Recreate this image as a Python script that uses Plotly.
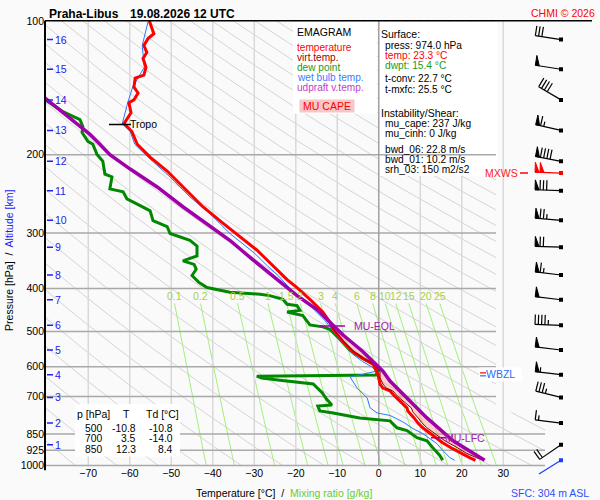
"""Emagram Praha-Libus redrawn with Plotly."""

import math
import plotly.graph_objects as go

FONT = "Liberation Sans"

# ---------------------------------------------------------------- sounding
TEMP_P = [100.0, 106.9, 109.6, 113.6, 117.8, 121.5, 127.2, 132.5, 134.6, 140.9,
          145.3, 150.6, 152.9, 161.0, 170.3, 177.4, 189.5, 202.6, 217.7, 236.4,
          261.9, 285.6, 305.6, 327.7, 338, 356, 382, 398, 423, 452,
          476, 494, 527, 555, 575, 592, 624, 656, 670, 680,
          698, 742, 754, 782, 802, 823, 855, 889, 917, 940, 960, 974]
TEMP_T = [-55.3, -54.2, -55.6, -56.6, -55.9, -56.8, -56.1, -56.6, -58.7, -59.0,
          -58.0, -59.0, -60.2, -59.7, -61.4, -59.5, -58.2, -55.1, -51.0, -47.2,
          -42.4, -37.5, -33.4, -29.4, -27.9, -25.5, -22.1, -19.7, -16.6, -13.5,
          -11.8, -11.0, -8.6, -6.2, -3.8, -1.4, -0.2, 0.3, 1.0, 2.7,
          3.8, 6.8, 7.0, 8.5, 9.4, 10.6, 13.0, 15.4, 17.8, 19.9, 21.9, 23.3]

DEWP_P = [150.0, 160.3, 166.8, 173.0, 178.3, 186.6, 189.5, 199.7, 206.9, 221.2,
          224.5, 238.8, 242.5, 251.4, 260.5, 267.6, 281.5, 290.2, 300.8, 311.6,
          321.2, 338.0, 346.7, 353.0, 362.0, 374.0, 388.0, 398.0, 408.0, 412.0,
          415.0, 423.0, 434.0, 437.0, 448.0, 452.0, 460.0, 483.0, 488.0, 494.0,
          520.0, 550.0, 575.0, 590.0, 614.0, 626.0, 630.0, 636.0, 643.0, 656.0,
          687.0, 709.0, 731.0, 735.0, 754.0, 762.0, 782.0, 794.0, 823.0, 835.0,
          866.0, 880.0, 912.0, 950.0, 974.0]
DEWP_T = [-80.6, -76.0, -72.0, -71.3, -71.5, -70.1, -68.9, -67.9, -66.5, -66.0,
          -64.3, -64.8, -61.6, -60.7, -57.5, -55.1, -54.4, -51.0, -50.3, -45.5,
          -43.8, -43.8, -47.2, -44.5, -44.0, -45.0, -43.3, -41.4, -35.9, -28.6,
          -26.3, -23.1, -22.1, -19.7, -19.0, -22.1, -18.3, -16.6, -13.5, -11.8,
          -9.4, -7.0, -3.8, -1.4, -0.2, -0.7, -29.4, -28.2, -23.8, -15.8,
          -13.6, -12.6, -11.3, -14.7, -14.2, -11.0, -4.6, 2.7, 4.4, 6.8,
          9.2, 11.6, 13.0, 14.7, 15.4]

WETB_P = [100.5, 113.6, 127.2, 140.9, 152.9, 170.3, 177.4, 189.5, 202.6, 224.5,
          249.0, 271.3, 300.8, 332.8, 356.0, 374.0, 408.0, 423.0, 452.0, 476.0,
          488.0, 527.0, 561.0, 584.0, 601.0, 614.0, 633.0, 670.0, 705.0, 742.0,
          762.0, 772.0, 798.0, 826.0, 848.0, 893.0, 925.0, 960.0, 974.0]
WETB_T = [-55.6, -57.0, -56.5, -59.3, -60.5, -61.8, -59.9, -58.8, -55.6, -50.3,
          -45.5, -40.7, -35.9, -30.0, -26.8, -24.3, -20.5, -18.0, -15.0, -12.6,
          -11.8, -9.0, -6.4, -3.9, -1.6, -0.7, -6.9, -5.2, -2.8, -2.1,
          -0.4, 2.7, 5.8, 8.2, 10.6, 14.0, 15.4, 17.1, 18.3]

VIRT_P = [476, 494, 527, 555, 575, 592, 614, 635, 656, 670, 680, 700,
          742, 760, 782, 800, 823, 850, 880, 912, 940, 960, 974]
VIRT_T = [-11.7, -10.9, -8.4, -6.0, -3.6, -1.1, 0.3, 0.3, 1.0, 1.8, 3.4, 4.6,
          7.8, 8.3, 9.5, 10.3, 11.6, 13.6, 15.9, 18.9, 21.2, 23.5, 25.2]

# MU parcel (updraft virtual temperature)
PARC_P = [149, 160.3, 175.8, 180.1, 189.5, 200, 215.5, 236.4, 261.9, 290.2,
          311.6, 345, 382, 415, 446, 476, 509, 555, 614, 646,
          705, 782, 880, 974]
PARC_T = [-80.5, -76.3, -71.3, -69.6, -67.2, -64.8, -59.9, -53.4, -47.2, -40.7,
          -35.9, -30.3, -24.5, -19.7, -14.9, -11.8, -8.6, -3.8, 1.0, 2.7,
          6.8, 11.6, 17.9, 25.5]

TROPO_P = 171
EQL_P = 486
LFC_P = 866
WBZL_P = 624

# altitude marks [km] and the pressure they sit at
ALT_KM = list(range(1, 17))
ALT_P = [898, 803, 703, 625, 550, 484, 424, 373, 323, 281,
         241, 207, 176.4, 150.6, 128.5, 110.2]

# winds at the altitude marks (direction deg, speed kt)
WIND_DIR = [235, 277, 284, 277, 277, 272, 277, 277, 272, 275,
            272, 281, 283, 301, 279, 279]
WIND_SPD = [20, 15, 35, 55, 50, 45, 50, 65, 70, 75,
            80, 90, 65, 40, 50, 30]
SFC_P, SFC_DIR, SFC_SPD = 974, 238, 0
MXWS_P, MXWS_DIR, MXWS_SPD = 220, 272, 100

# table in the lower left
TAB_P = [500, 700, 850]
TAB_T = [-10.8, 3.5, 12.3]
TAB_TD = [-10.8, -14.0, 8.4]

# background lines
ISOTHERMS = list(range(-70, 31, 10))
ISOBARS = [200, 300, 400, 500, 600, 700, 850, 925, 1000]
THETA_K = list(range(190, 600, 10))
MIX_W = [0.1, 0.2, 0.5, 1, 1.5, 2, 3, 4, 6, 8, 10, 12, 15, 20, 25]

SURFACE_TXT = [("press: 974.0 hPa", "black"), ("temp: 23.3 °C", "#ff0000"),
               ("dwpt: 15.4 °C", "#1a9a1a")]
CONV_TXT = ["t-conv: 22.7 °C", "t-mxfc: 25.5 °C"]
INST_TXT = ["mu_cape: 237 J/kg", "mu_cinh: 0 J/kg"]
SHEAR_TXT = ["bwd_06: 22.8 m/s", "bwd_01: 10.2 m/s", "srh_03: 150 m2/s2"]

# ---------------------------------------------------------------- geometry
W, H = 600, 500
X_L, X_R = 45, 600          # plot area, px
Y_T, Y_B = 15, 465          # 100 hPa .. 1000 hPa
Y_CLIP = 482
T_L = -80.43
PX_DEG = 4.15
T_R = T_L + (X_R - X_L) / PX_DEG
KAPPA = 0.286


def tx(x):
    return T_L + (x - X_L) / PX_DEG


def py(p):
    return Y_T + (Y_B - Y_T) * math.log10(p / 100.0)


def yp(y):
    return 100.0 * 10 ** ((y - Y_T) / (Y_B - Y_T))


def td_of_w(w, p):
    e = w * p / (622.0 + w)
    a = math.log(e / 6.112)
    return 243.5 * a / (17.67 - a)


fig = go.Figure()


def add_line(xs, ys, color, width, **kw):
    fig.add_trace(go.Scatter(x=xs, y=ys, mode="lines",
                             line=dict(color=color, width=width),
                             hoverinfo="skip", showlegend=False, **kw))


def px_poly(segs):
    xs, ys = [], []
    for s in segs:
        for x, y in s:
            xs.append(tx(x))
            ys.append(yp(y))
        xs.append(None)
        ys.append(None)
    return xs, ys


# dry adiabats
hx, hy = [], []
for th in THETA_K:
    for p0, p1, lim in ((100, 760, tx(496)), (760, 1000, tx(545))):
        pc = 1000 * ((lim + 273.15) / th) ** (1 / KAPPA)
        pe = min(p1, pc)
        if pe <= p0:
            continue
        for i in range(13):
            p = p0 * (pe / p0) ** (i / 12)
            hx.append(th * (p / 1000) ** KAPPA - 273.15)
            hy.append(p)
        hx.append(None)
        hy.append(None)
add_line(hx, hy, "#d4d4d4", 1)

# mixing ratio lines
mx, my = [], []
for w in MIX_W:
    for i in range(9):
        p = 432 * (1000 / 432) ** (i / 8)
        mx.append(td_of_w(w, p))
        my.append(p)
    mx.append(None)
    my.append(None)
add_line(mx, my, "#a4f07c", 1)

# isotherms
ix, iy = [], []
for t in ISOTHERMS:
    if t != 0:
        ix += [t, t, None]
        iy += [100, 1000, None]
add_line(ix, iy, "#d9d9d9", 1.5)

# white panels (legend and info)
for x0, x1, y0, y1 in ((293, 377, 16, 109), (379, 497, 16, 172)):
    bx, by = px_poly([[(x0, y0), (x1, y0), (x1, y1), (x0, y1), (x0, y0)]])
    fig.add_trace(go.Scatter(x=bx, y=by, mode="lines", fill="toself",
                             fillcolor="white", line=dict(width=0),
                             hoverinfo="skip", showlegend=False))

# isobars and 0 degC
gx, gy = [], []
for p in ISOBARS:
    gx += [T_L, tx(496) if p < 800 else tx(545), None]
    gy += [p, p, None]
add_line(gx, gy, "#a9a9a9", 1.5)
add_line([0, 0], [100, 1000], "#a0a0a0", 1.5)

# CAPE area between updraft and virtual temperature
cape_x = [t for p, t in zip(PARC_P, PARC_T) if p >= VIRT_P[0]] + VIRT_T[::-1]
cape_y = [p for p in PARC_P if p >= VIRT_P[0]] + VIRT_P[::-1]
fig.add_trace(go.Scatter(x=cape_x, y=cape_y, mode="lines", fill="toself",
                         fillcolor="rgba(255,140,140,0.4)", line=dict(width=0),
                         hoverinfo="skip", showlegend=False))

# profiles
add_line(DEWP_T, DEWP_P, "#008800", 3)
add_line(WETB_T, WETB_P, "#2a78ff", 1)
add_line(TEMP_T, TEMP_P, "#ff0000", 3)
add_line(VIRT_T, VIRT_P, "#8b0000", 1)
add_line(PARC_T, PARC_P, "#a000a8", 3.5)

# markers of levels
add_line([tx(109), tx(131)], [TROPO_P, TROPO_P], "black", 1.5)
add_line([tx(320), tx(345)], [EQL_P, EQL_P], "#a000a8", 1.5)
add_line([tx(431), tx(446)], [LFC_P, LFC_P], "#a000a8", 1.5)
add_line([tx(520), tx(528)], [MXWS_P, MXWS_P], "#ff0000", 1.5)

# altitude dashes
ax_, ay_ = [], []
for p in ALT_P:
    ax_ += [tx(47), tx(53), None]
    ay_ += [p, p, None]
add_line(ax_, ay_, "#2020ee", 1.5)


# wind barbs
BARB_X = 561


def barb(p, wdir, spd):
    x0, y0 = BARB_X, py(p)
    a = math.radians(wdir)
    ux, uy = math.sin(a), -math.cos(a)
    bx, by = -uy, ux
    tipx, tipy = x0 + ux * 26, y0 + uy * 26
    lines = [[(x0, y0), (tipx, tipy)]]
    tris = []
    n50, rest = divmod(int(round(spd / 5.0)) * 5, 50)
    n10, rest = divmod(rest, 10)
    d = 0.0
    for _ in range(n50):
        sx, sy = tipx - ux * d, tipy - uy * d
        ex, ey = tipx - ux * (d + 4), tipy - uy * (d + 4)
        tris.append([(sx, sy), (sx + bx * 10, sy + by * 10), (ex, ey), (sx, sy)])
        d += 5
    for _ in range(n10):
        sx, sy = tipx - ux * d, tipy - uy * d
        lines.append([(sx, sy), (sx + bx * 10, sy + by * 10)])
        d += 3.3
    if rest >= 5:
        sx, sy = tipx - ux * d, tipy - uy * d
        lines.append([(sx, sy), (sx + bx * 5, sy + by * 5)])
    return lines, tris, (x0, y0)


def draw_barbs(levels, color):
    all_lines, all_tris, dots = [], [], []
    for p, wd, ws in levels:
        ln, tr, dot = barb(p, wd, ws)
        all_lines += ln
        all_tris += tr
        dots.append(dot)
    lx, ly = px_poly(all_lines)
    add_line(lx, ly, color, 1.2)
    if all_tris:
        tx_, ty_ = px_poly(all_tris)
        fig.add_trace(go.Scatter(x=tx_, y=ty_, mode="lines", fill="toself",
                                 fillcolor=color, line=dict(color=color, width=1),
                                 hoverinfo="skip", showlegend=False))
    dx, dy = px_poly([[d] for d in dots])
    fig.add_trace(go.Scatter(x=dx, y=dy, mode="markers",
                             marker=dict(symbol="square", size=4, color=color),
                             hoverinfo="skip", showlegend=False))


draw_barbs(list(zip(ALT_P, WIND_DIR, WIND_SPD)), "black")
draw_barbs([(MXWS_P, MXWS_DIR, MXWS_SPD)], "#ff0000")
draw_barbs([(SFC_P, SFC_DIR, SFC_SPD)], "#1a3cff")


# ---------------------------------------------------------------- texts
def text(x, y, s, size=10.5, color="black", anchor="left", **kw):
    fig.add_annotation(x=x / W, y=1 - y / H, xref="paper", yref="paper",
                       text=s, showarrow=False, xanchor=anchor, yanchor="middle",
                       borderpad=0, font=dict(family=FONT, size=size, color=color),
                       **kw)


def text_at(x, p, s, size=10.5, color="black", anchor="left", **kw):
    text(x, py(p), s, size, color, anchor, **kw)


text(48, 8, "<b>Praha-Libus</b>", 12)
text(129, 8, "<b>19.08.2026 12 UTC</b>", 12)
text(596, 7, "CHMI © 2026", 10.5, "#ff0000", "right")

# legend panel
text(296, 26, "EMAGRAM", 10.5)
for i, (s, c) in enumerate([("temperature", "#ff0000"), ("virt.temp.", "#a00000"),
                            ("dew point", "#1a9a1a"), ("wet bulb temp.", "#3a7cff"),
                            ("udpraft v.temp.", "#c040c8")]):
    text(296, 42 + i * 10, s, 10.1, c)
fig.add_annotation(x=327 / W, y=1 - 101 / H, xref="paper", yref="paper",
                   text="MU CAPE", showarrow=False, xanchor="center",
                   yanchor="middle", width=54, height=12, bgcolor="#f8c6c6",
                   borderpad=0, font=dict(family=FONT, size=10.5, color="#ff0000"))

# info panel
text(380, 28, "Surface:")
for i, (s, c) in enumerate(SURFACE_TXT):
    text(384, 40 + i * 10, s, 10.2, color=c)
for i, s in enumerate(CONV_TXT):
    text(384, 73.5 + i * 10.6, s, 10.1)
text(380, 108, "Instability/Shear:")
for i, s in enumerate(INST_TXT):
    text(384, 119 + i * 10, s, 10.2)
for i, s in enumerate(SHEAR_TXT):
    text(384, 145 + i * 10, s, 10.2)

# level labels
text_at(129, TROPO_P, "Tropo")
text_at(353, EQL_P, "MU-EQL", color="#a020a8")
text_at(444, LFC_P, "MU-LFC", color="#a020a8")
text_at(519, MXWS_P, "MXWS", color="#ff2020", anchor="right")
fig.add_shape(type="rect", xref="paper", yref="paper",
              x0=479 / W, x1=522 / W, y0=1 - 380 / H, y1=1 - 366 / H,
              fillcolor="white", line=dict(width=0), layer="above")
for dy, c in ((-1.5, "#ff0000"), (1.5, "#2a6cff")):
    yy = 1 - (py(WBZL_P) + dy) / H
    fig.add_shape(type="line", xref="paper", yref="paper", x0=480 / W,
                  x1=486 / W, y0=yy, y1=yy, line=dict(color=c, width=1.2),
                  layer="above")
text_at(485, WBZL_P, "WBZL", color="#2a6cff")

# altitude numbers
for km, p in zip(ALT_KM, ALT_P):
    text_at(54, p, str(km), color="#2020ee")

# mixing ratio labels
for w in MIX_W:
    x = X_L + (td_of_w(w, 432) - T_L) * PX_DEG
    text(x, 294, f"{w:g}", 10.5, "#a8d048", "center")

# table
fig.add_shape(type="rect", xref="paper", yref="paper",
              x0=75 / W, x1=180 / W, y0=1 - 456 / H, y1=1 - 403 / H,
              fillcolor="white", line=dict(width=0), layer="above")
text(76, 413, "p [hPa]")
text(122, 413, "T")
text(145, 413, "Td [°C]")
for i, (p, t, td) in enumerate(zip(TAB_P, TAB_T, TAB_TD)):
    yy = 428 + i * 10.2
    text(103, yy, str(p), 10.3, anchor="right")
    text(137, yy, f"{t:.1f}", 10.3, anchor="right")
    text(174, yy, f"{td:.1f}", 10.3, anchor="right")

# axis titles
fig.add_annotation(x=9 / W, y=1 - 258 / H, xref="paper", yref="paper",
                   text="Pressure [hPa]  /  <span style='color:#2020ee'>Altitude [km]</span>",
                   textangle=-90, showarrow=False, xanchor="center", yanchor="middle",
                   font=dict(family=FONT, size=10.5, color="black"))
text(195, 493, "Temperature [°C]  /  <span style='color:#66cc33'>Mixing ratio [g/kg]</span>")
text(590, 493, "SFC: 304 m ASL", color="#2a50ff", anchor="right")

# frame lines
fig.add_shape(type="line", xref="paper", yref="paper", x0=X_L / W, x1=592 / W,
              y0=1 - Y_T / H, y1=1 - Y_T / H, line=dict(color="black", width=1.5),
              layer="above")
fig.add_shape(type="line", xref="paper", yref="paper", x0=X_L / W, x1=X_L / W,
              y0=1 - Y_T / H, y1=1 - 470 / H, line=dict(color="black", width=2),
              layer="above")

fig.update_layout(
    width=W, height=H,
    margin=dict(l=0, r=0, t=0, b=0),
    paper_bgcolor="#fafafa", plot_bgcolor="#fafafa",
    showlegend=False,
    font=dict(family=FONT, size=10.5, color="black"),
    xaxis=dict(domain=[X_L / W, X_R / W], range=[T_L, T_R], anchor="free",
               position=1 - Y_B / H, showgrid=False, zeroline=False,
               showline=False, tickvals=ISOTHERMS, ticks="",
               tickfont=dict(size=10.5)),
    yaxis=dict(type="log", domain=[1 - Y_CLIP / H, 1 - Y_T / H],
               range=[math.log10(yp(Y_CLIP)), 2], showgrid=False,
               zeroline=False, showline=False, ticks="",
               tickvals=[100] + ISOBARS, ticktext=[str(p) for p in [100] + ISOBARS],
               tickfont=dict(size=10.5)),
)

fig.write_html("out.html", config={"displayModeBar": False},
               post_script="document.body.style.margin='0';")
